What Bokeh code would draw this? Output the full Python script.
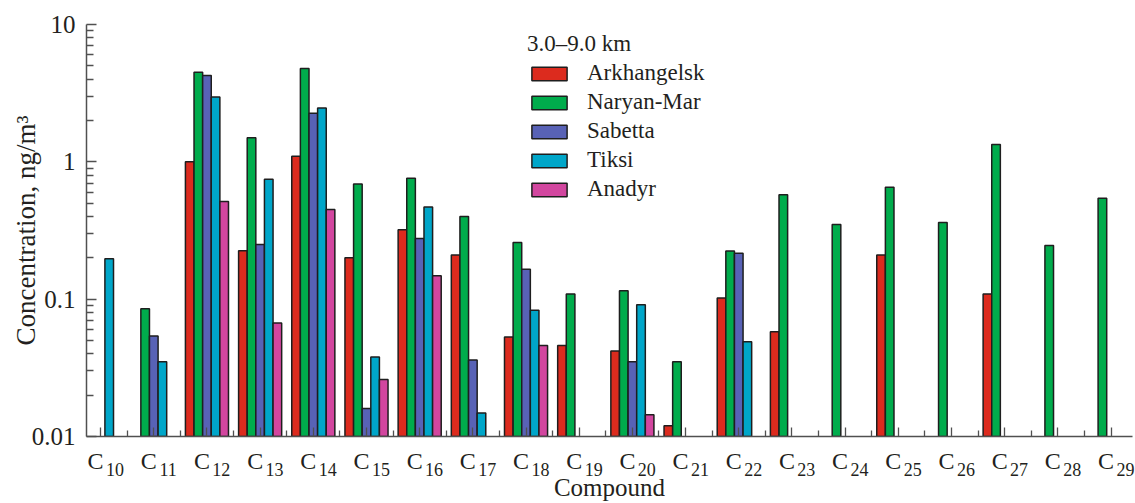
import math
from bokeh.plotting import figure
from bokeh.models import (Range1d, FixedTicker, CustomJSTickFormatter, Legend, LegendItem,
                          ColumnDataSource, LinearAxis)
from bokeh.transform import dodge
from bokeh.embed import file_html
from bokeh.resources import INLINE

nan = float("nan")

# ---- data ----
carbon_numbers = [10, 11, 12, 13, 14, 15, 16, 17, 18, 19, 20, 21, 22, 23, 24, 25, 26, 27, 28, 29]
series_names = ["Arkhangelsk", "Naryan-Mar", "Sabetta", "Tiksi", "Anadyr"]
legend_title = "3.0\u20139.0 km"
x_title = "Compound"
y_title = "Concentration, ng/m\u00b3"

arkhangelsk = [nan, nan, 1.0, 0.225, 1.1, 0.20, 0.32, 0.21, 0.053, 0.046,
               0.042, 0.012, 0.102, 0.058, nan, 0.21, nan, 0.109, nan, nan]
naryan_mar = [nan, 0.085, 4.5, 1.5, 4.78, 0.69, 0.76, 0.40, 0.259, 0.109,
              0.115, 0.035, 0.224, 0.575, 0.35, 0.654, 0.362, 1.34, 0.246, 0.544]
sabetta = [nan, 0.054, 4.25, 0.25, 2.26, 0.016, 0.277, 0.036, 0.165, nan,
           0.035, nan, 0.216, nan, nan, nan, nan, nan, nan, nan]
tiksi = [0.197, 0.035, 2.96, 0.748, 2.47, 0.038, 0.468, 0.0148, 0.083, nan,
         0.091, nan, 0.049, nan, nan, nan, nan, nan, nan, nan]
anadyr = [nan, nan, 0.514, 0.067, 0.45, 0.026, 0.148, nan, 0.046, nan,
          0.0144, nan, nan, nan, nan, nan, nan, nan, nan, nan]

y_major_ticks = [0.01, 0.1, 1, 10]
y_minor_ticks = [0.02, 0.03, 0.04, 0.05, 0.06, 0.07, 0.08, 0.09,
                 0.2, 0.3, 0.4, 0.5, 0.6, 0.7, 0.8, 0.9,
                 2, 3, 4, 5, 6, 7, 8, 9]

colors = ["#dc2b1e", "#00ac4c", "#5862b6", "#00a6c9", "#d2469f"]
FONT = "'Liberation Serif', 'Times New Roman', serif"
TXT = "#231f20"
AX = "#505050"

series_values = [arkhangelsk, naryan_mar, sabetta, tiksi, anadyr]

p = figure(width=1135, height=503, y_axis_type="log", x_axis_location=None,
           output_backend="svg", toolbar_location=None,
           x_range=Range1d(9.735, 29.404), y_range=Range1d(0.01, 10),
           min_border_left=86, min_border_right=3, min_border_top=24, min_border_bottom=67)
p.outline_line_color = None
p.xgrid.visible = False
p.ygrid.visible = False
p.background_fill_color = "white"
p.border_fill_color = "white"

bar_w = 0.162
data = {"x": carbon_numbers}
for name, vals in zip(series_names, series_values):
    data[name] = vals
src = ColumnDataSource(data)

items = []
for k, (name, col) in enumerate(zip(series_names, colors)):
    r = p.vbar(x=dodge("x", (k - 2) * bar_w), top=name, bottom=0.01, width=bar_w,
               source=src, fill_color=col, line_color="#1e1e1e", line_width=1.5)
    items.append(LegendItem(label=name, renderers=[r]))

# ---- x axes: (A) line + ticks, (B) "C" letters, (C) subscript numbers + title ----
ax_a = LinearAxis(ticker=FixedTicker(ticks=carbon_numbers,
                                     minor_ticks=[c + 0.5 for c in carbon_numbers]),
                  axis_line_color=AX, axis_line_width=1.5,
                  major_tick_line_color=AX, minor_tick_line_color=AX,
                  major_tick_line_width=1.3, minor_tick_line_width=1.3,
                  major_tick_in=9, major_tick_out=0, minor_tick_in=6, minor_tick_out=0,
                  major_label_text_font_size="0px", major_label_standoff=0)
ax_a.formatter = CustomJSTickFormatter(code="return '';")

c_shift = -0.094   # "C" sits slightly left of the tick
ax_b = LinearAxis(ticker=FixedTicker(ticks=[c + c_shift for c in carbon_numbers], minor_ticks=[]),
                  axis_line_color=None, major_tick_line_color=None, minor_tick_line_color=None,
                  major_label_text_font=FONT, major_label_text_font_size="24px",
                  major_label_text_color=TXT, major_label_standoff=5)
ax_b.formatter = CustomJSTickFormatter(code="return 'C';")

s_shift = 0.271    # subscript number sits right of the tick
ax_c = LinearAxis(ticker=FixedTicker(ticks=[c + s_shift for c in carbon_numbers], minor_ticks=[]),
                  axis_line_color=None, major_tick_line_color=None, minor_tick_line_color=None,
                  major_label_text_font=FONT, major_label_text_font_size="18px",
                  major_label_text_color=TXT, major_label_standoff=-20,
                  axis_label=x_title, axis_label_text_font=FONT,
                  axis_label_text_font_size="25px", axis_label_text_font_style="normal",
                  axis_label_text_color=TXT, axis_label_standoff=-5)
ax_c.formatter = CustomJSTickFormatter(code="return String(Math.round(tick - %r));" % s_shift)

p.add_layout(ax_a, "below")
p.add_layout(ax_b, "below")
p.add_layout(ax_c, "below")

# ---- y axis ----
ya = p.yaxis[0]
ya.axis_line_color = AX
ya.axis_line_width = 1.5
ya.major_tick_line_color = AX
ya.minor_tick_line_color = AX
ya.major_tick_line_width = 1.3
ya.minor_tick_line_width = 1.3
ya.major_tick_out = 0
ya.minor_tick_out = 0
ya.major_tick_in = 10
ya.minor_tick_in = 7
ya.ticker = FixedTicker(ticks=y_major_ticks, minor_ticks=y_minor_ticks)
ya.formatter = CustomJSTickFormatter(code="return String(Number(tick.toPrecision(6)));")
ya.major_label_text_font = FONT
ya.major_label_text_font_size = "25px"
ya.major_label_text_color = TXT
ya.major_label_standoff = 11
ya.axis_label = y_title
ya.axis_label_text_font = FONT
ya.axis_label_text_font_size = "27px"
ya.axis_label_text_font_style = "normal"
ya.axis_label_text_color = TXT
ya.axis_label_standoff = -12

legend = Legend(items=items, location=(441, 234), title=legend_title,
                title_text_font=FONT, title_text_font_size="23px", title_text_font_style="normal",
                title_text_color=TXT, title_standoff=3,
                label_text_font=FONT, label_text_font_size="23px", label_text_color=TXT,
                glyph_width=44, glyph_height=17, label_standoff=16, spacing=3,
                padding=0, margin=0, border_line_color=None, background_fill_alpha=0)
p.add_layout(legend)

open("out.html", "w").write(file_html(p, INLINE))
